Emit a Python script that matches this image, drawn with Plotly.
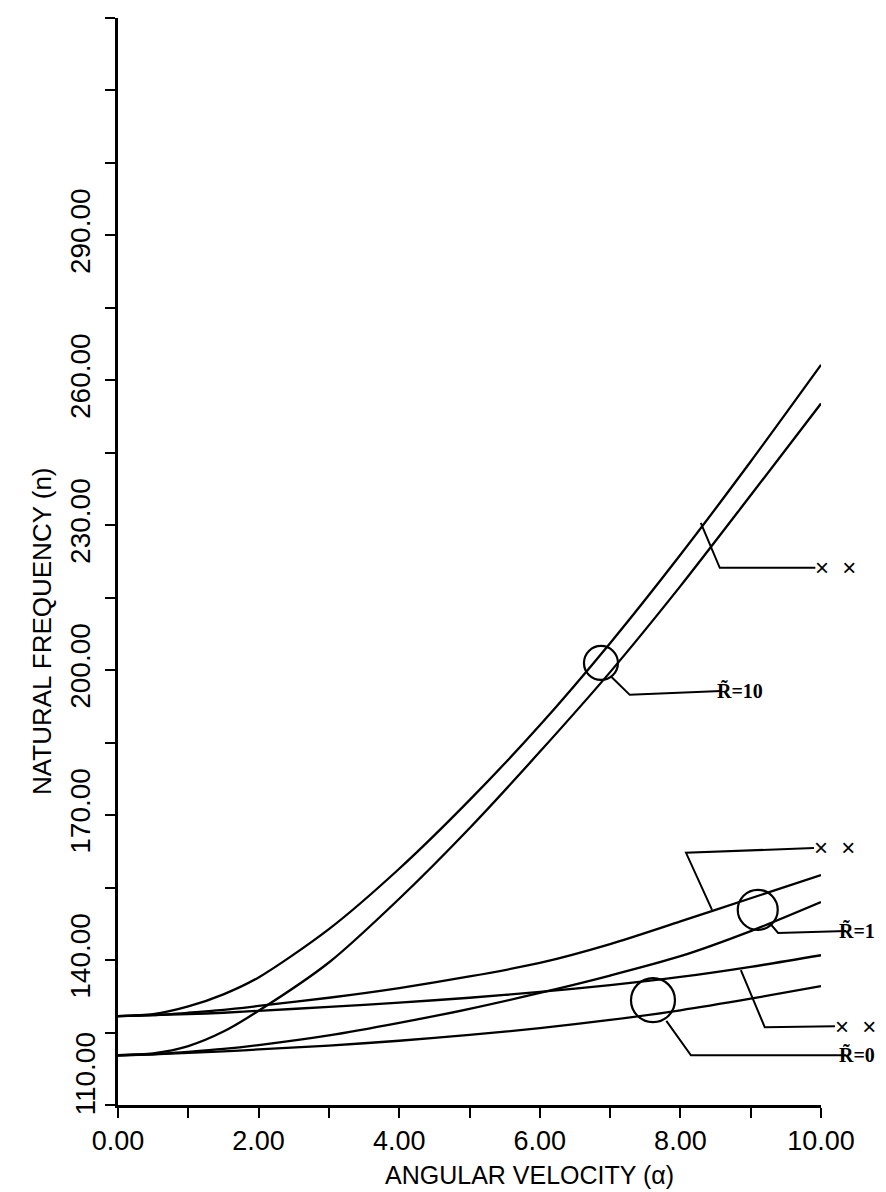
import plotly.graph_objects as go

# ---------------- data ----------------
alpha = [0, 0.5, 1, 1.5, 2, 3, 4, 5, 6, 7, 8, 9, 10]

r10_upper = [128.4, 128.8, 130.4, 132.9, 136.4, 146.4, 158.9, 173.1, 188.6, 205.6, 223.9, 243.2, 263.2]
r10_lower = [120.3, 120.7, 122.2, 125.2, 129.5, 139.5, 152.7, 167.3, 183.1, 199.6, 217.4, 236.2, 255.2]
r1_upper = [128.4, 128.6, 129.1, 129.7, 130.5, 132.2, 134.2, 136.6, 139.4, 143.3, 148.0, 152.8, 157.6]
r1_lower = [120.3, 120.5, 121.0, 121.6, 122.4, 124.4, 127.0, 129.9, 133.2, 136.8, 140.8, 146.0, 152.0]
r0_upper = [128.4, 128.6, 128.8, 129.1, 129.5, 130.3, 131.2, 132.2, 133.4, 134.8, 136.5, 138.6, 141.0]
r0_lower = [120.3, 120.5, 120.8, 121.1, 121.5, 122.3, 123.3, 124.5, 125.9, 127.6, 129.6, 132.0, 134.6]

x_ticks = [0, 1, 2, 3, 4, 5, 6, 7, 8, 9, 10]
x_tick_labels = ["0.00", "", "2.00", "", "4.00", "", "6.00", "", "8.00", "", "10.00"]
y_ticks = [110, 125, 140, 155, 170, 185, 200, 215, 230, 245, 260, 275, 290, 305, 320, 335]
y_tick_labels = ["", "", "140.00", "", "170.00", "", "200.00", "", "230.00", "",
                 "260.00", "", "290.00", "", "", ""]

X_RANGE = [0, 10]
Y_RANGE = [110, 335]

TICK_FONT = "Liberation Sans, Arial, sans-serif"
LABEL_FONT = "Liberation Serif, DejaVu Serif, serif"

fig = go.Figure()
for ys in [r10_upper, r10_lower, r1_upper, r1_lower, r0_upper, r0_lower]:
    fig.add_trace(go.Scatter(x=alpha, y=ys, mode="lines",
                             line=dict(color="black", width=2.3, shape="spline", smoothing=0.8),
                             showlegend=False, hoverinfo="skip"))


def to_paper(xd, yd):
    return ((xd - X_RANGE[0]) / (X_RANGE[1] - X_RANGE[0]),
            (yd - Y_RANGE[0]) / (Y_RANGE[1] - Y_RANGE[0]))


def leader(points):
    pts = [to_paper(x, y) for x, y in points]
    path = "M " + " L ".join(f"{px:.5f},{py:.5f}" for px, py in pts)
    fig.add_shape(type="path", path=path, xref="paper", yref="paper",
                  line=dict(color="black", width=2))


def circle(xd, yd, r):
    fig.add_shape(type="circle", xref="x", yref="y", xsizemode="pixel", ysizemode="pixel",
                  xanchor=xd, yanchor=yd, x0=-r, x1=r, y0=-r, y1=r,
                  line=dict(color="black", width=2.2))


def label(xd, yd, text, font, size, bold=False):
    px, py = to_paper(xd, yd)
    fig.add_annotation(x=px, y=py, xref="paper", yref="paper",
                       text=(f"<b>{text}</b>" if bold else text),
                       showarrow=False, xanchor="left", yanchor="middle", borderpad=0,
                       font=dict(family=font, size=size, color="black"))


# R=10 group
leader([(9.92, 221.2), (8.56, 221.2), (8.29, 230.5)])
label(9.90, 221.2, "×  ×", TICK_FONT, 24)
circle(6.87, 201.5, 17)
leader([(8.58, 195.7), (7.28, 194.9), (7.02, 198.6)])
label(8.50, 195.7, "R\u0303=10", LABEL_FONT, 20, bold=True)

# R=1 group
leader([(9.90, 163.2), (8.08, 162.2), (8.45, 150.4)])
label(9.88, 163.2, "×  ×", TICK_FONT, 24)
circle(9.10, 150.4, 20)
leader([(10.36, 146.0), (9.39, 145.6), (9.28, 147.5)])
label(10.24, 146.0, "R\u0303=1", LABEL_FONT, 20, bold=True)

# R=0 group
leader([(10.20, 126.3), (9.20, 126.1), (8.86, 137.9)])
label(10.18, 126.2, "×  ×", TICK_FONT, 24)
circle(7.61, 131.7, 22)
leader([(10.36, 120.3), (8.15, 120.3), (7.80, 127.4)])
label(10.24, 120.3, "R\u0303=0", LABEL_FONT, 20, bold=True)

# bottom y tick label (placed slightly above the corner as in the reference)
fig.add_annotation(x=0, y=to_paper(0, 116.4)[1], xref="paper", yref="paper", text="110.00",
                   textangle=-90, showarrow=False, xanchor="right", yanchor="middle", xshift=-15,
                   font=dict(family=TICK_FONT, size=28, color="black"))

# axis titles
fig.add_annotation(x=to_paper(5.86, 0)[0], y=-0.064, xref="paper", yref="paper",
                   text="ANGULAR VELOCITY (α)", showarrow=False, xanchor="center", yanchor="middle",
                   font=dict(family=TICK_FONT, size=25, color="black"))
fig.add_annotation(x=-0.109, y=to_paper(0, 208)[1], xref="paper", yref="paper",
                   text="NATURAL FREQUENCY (n)", textangle=-90, showarrow=False,
                   xanchor="center", yanchor="middle",
                   font=dict(family=TICK_FONT, size=26, color="black"))

fig.update_layout(
    width=886, height=1192,
    margin=dict(l=110, r=73, t=10, b=95),
    paper_bgcolor="white", plot_bgcolor="white",
    xaxis=dict(range=X_RANGE, tickmode="array", tickvals=x_ticks, ticktext=x_tick_labels,
               ticks="outside", ticklen=10, tickwidth=2, tickcolor="black",
               showline=True, linewidth=3, linecolor="black", showgrid=False, zeroline=False,
               tickfont=dict(family=TICK_FONT, size=27, color="black")),
    yaxis=dict(range=Y_RANGE, tickmode="array", tickvals=y_ticks, ticktext=y_tick_labels,
               tickangle=-90, ticks="outside", ticklen=10, tickwidth=2, tickcolor="black",
               ticklabelstandoff=4,
               showline=True, linewidth=3, linecolor="black", showgrid=False, zeroline=False,
               tickfont=dict(family=TICK_FONT, size=28, color="black")),
)

fig.write_html("out.html")
